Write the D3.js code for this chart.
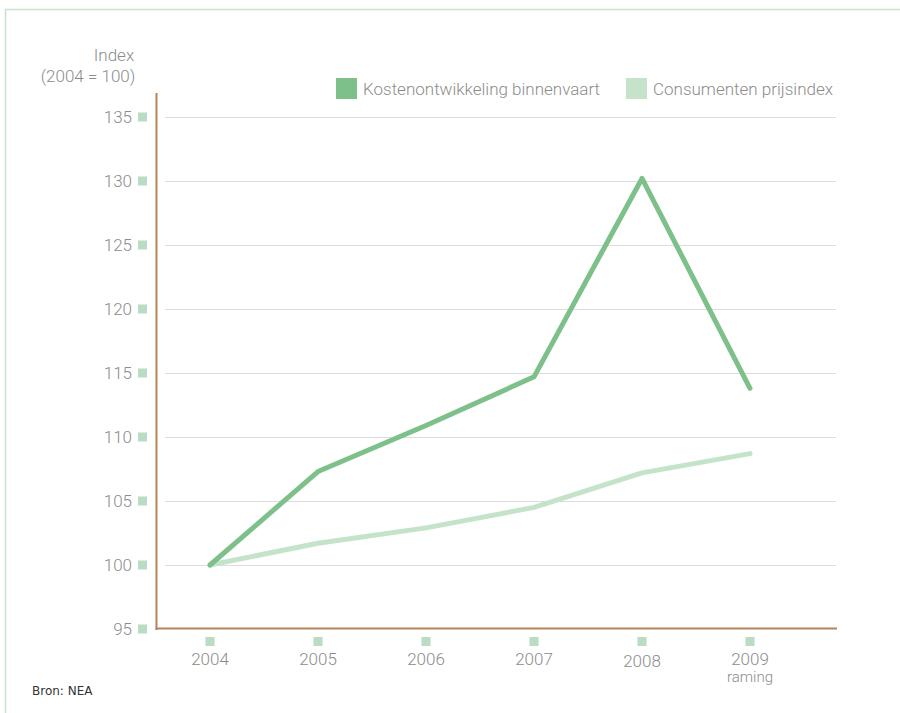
<!DOCTYPE html>
<html>
<head>
<meta charset="utf-8">
<script src="https://cdn.jsdelivr.net/npm/d3@7"></script>
<style>
  html, body { margin: 0; padding: 0; background: #fff; }
  svg { display: block; font-family: Roboto, "Liberation Sans", sans-serif; }
</style>
</head>
<body>
<svg id="chart" width="900" height="713"></svg>
<script>
// Index values, 2004 = 100
const years = ["2004", "2005", "2006", "2007", "2008", "2009"];
const yearSub = ["", "", "", "", "", "raming"];
const kosten = [100, 107.3, 110.9, 114.7, 130.2, 113.8];
const cpi = [100, 101.7, 102.9, 104.5, 107.2, 108.7];
const yTicks = [95, 100, 105, 110, 115, 120, 125, 130, 135];
const seriesNames = ["Kostenontwikkeling binnenvaart", "Consumenten prijsindex"];
const seriesColors = ["#7dc08a", "#c5e3c9"];

const svg = d3.select("#chart");

// frame
svg.append("path")
  .attr("d", "M5.5,713 L5.5,9.5 L900,9.5")
  .attr("fill", "none")
  .attr("stroke", "#c5e3c9")
  .attr("stroke-width", 1.5);

const x = d3.scalePoint().domain(years).range([210, 750]);
const y = d3.scaleLinear().domain([95, 135]).range([629, 117]);

const axisColor = "#b5835a";
const textColor = "#8c8c8c";
const tickSq = "#b9dcc2";
const fs = 17;

// gridlines
svg.append("g").selectAll("line")
  .data(yTicks.filter(d => d > 95))
  .join("line")
  .attr("x1", 165).attr("x2", 836)
  .attr("y1", d => Math.round(y(d)) + 0.5).attr("y2", d => Math.round(y(d)) + 0.5)
  .attr("stroke", "#dcdcdc").attr("stroke-width", 1.2);

// y ticks: square markers and labels
const yt = svg.append("g");
yt.selectAll("rect").data(yTicks).join("rect")
  .attr("x", 138).attr("y", d => y(d) - 4.5)
  .attr("width", 9).attr("height", 9)
  .attr("fill", tickSq);
yt.selectAll("text").data(yTicks).join("text")
  .attr("x", 132).attr("y", d => y(d) + 6)
  .attr("text-anchor", "end")
  .attr("font-size", fs).attr("font-weight", 300).attr("fill", textColor)
  .text(d => d);

// x ticks
const xt = svg.append("g");
xt.selectAll("rect").data(years).join("rect")
  .attr("x", d => x(d) - 4.5).attr("y", 637)
  .attr("width", 9).attr("height", 9)
  .attr("fill", tickSq);
xt.selectAll("text.yr").data(years).join("text")
  .attr("class", "yr")
  .attr("x", d => x(d)).attr("y", (d, i) => i === 4 ? 667 : 665)
  .attr("text-anchor", "middle")
  .attr("font-size", fs).attr("font-weight", 300).attr("fill", textColor)
  .text(d => d);
xt.selectAll("text.sub").data(years).join("text")
  .attr("class", "sub")
  .attr("x", d => x(d)).attr("y", 682)
  .attr("text-anchor", "middle")
  .attr("font-size", 15).attr("font-weight", 300).attr("fill", textColor)
  .text((d, i) => yearSub[i]);

// axes lines
svg.append("line")
  .attr("x1", 156.5).attr("x2", 156.5).attr("y1", 93).attr("y2", 630)
  .attr("stroke", axisColor).attr("stroke-width", 2);
svg.append("line")
  .attr("x1", 155.5).attr("x2", 837).attr("y1", 628.5).attr("y2", 628.5)
  .attr("stroke", axisColor).attr("stroke-width", 2);

// series lines
const line = d3.line().x((d, i) => x(years[i])).y(d => y(d));
[cpi, kosten].forEach((vals, k) => {
  svg.append("path")
    .attr("d", line(vals))
    .attr("fill", "none")
    .attr("stroke", k === 0 ? seriesColors[1] : seriesColors[0])
    .attr("stroke-width", 5)
    .attr("stroke-linejoin", "round")
    .attr("stroke-linecap", "round");
});

// y axis title
svg.append("text").attr("x", 114).attr("y", 61)
  .attr("text-anchor", "middle").attr("font-size", fs).attr("font-weight", 300).attr("fill", textColor)
  .text("Index");
svg.append("text").attr("x", 88).attr("y", 82)
  .attr("text-anchor", "middle").attr("font-size", fs).attr("font-weight", 300).attr("fill", textColor)
  .text("(2004 = 100)");

// legend
const legX = [336, 626];
seriesNames.forEach((name, i) => {
  svg.append("rect").attr("x", legX[i]).attr("y", 78)
    .attr("width", 21).attr("height", 21).attr("fill", seriesColors[i]);
  svg.append("text").attr("x", legX[i] + 27).attr("y", 95)
    .attr("font-size", fs).attr("font-weight", 300).attr("fill", textColor).text(name);
});

// source
svg.append("text").attr("x", 32).attr("y", 695)
  .attr("font-family", "DejaVu Sans")
  .attr("font-size", 12).attr("fill", "#333")
  .text("Bron: NEA");
</script>
</body>
</html>
